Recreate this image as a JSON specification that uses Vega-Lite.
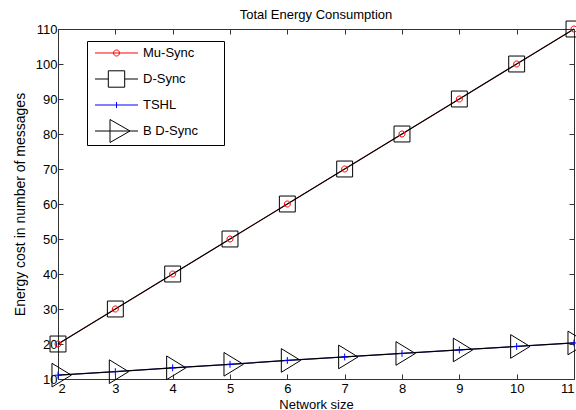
{
  "$schema": "https://vega.github.io/schema/vega-lite/v6.json",
  "width": 516,
  "height": 350,
  "autosize": "none",
  "padding": {"left": 58, "top": 29, "right": 2, "bottom": 31},
  "background": "white",
  "config": {
    "font": "Liberation Sans",
    "view": {"stroke": null},
    "axis": {"labelFont": "Liberation Sans", "titleFont": "Liberation Sans", "labelColor": "#000", "titleColor": "#000", "domainColor": "#333", "tickColor": "#333", "grid": false, "titleFontWeight": "normal", "labelFontSize": 13, "titleFontSize": 13}
  },
  "title": {"text": "Total Energy Consumption", "fontSize": 13, "fontWeight": "normal", "font": "Liberation Sans", "color": "#000", "anchor": "middle", "offset": -4},
  "data": {
    "values": [
      {"n": 2, "series": "Mu-Sync", "cost": 20}, {"n": 3, "series": "Mu-Sync", "cost": 30}, {"n": 4, "series": "Mu-Sync", "cost": 40}, {"n": 5, "series": "Mu-Sync", "cost": 50}, {"n": 6, "series": "Mu-Sync", "cost": 60}, {"n": 7, "series": "Mu-Sync", "cost": 70}, {"n": 8, "series": "Mu-Sync", "cost": 80}, {"n": 9, "series": "Mu-Sync", "cost": 90}, {"n": 10, "series": "Mu-Sync", "cost": 100}, {"n": 11, "series": "Mu-Sync", "cost": 110},
      {"n": 2, "series": "D-Sync", "cost": 20}, {"n": 3, "series": "D-Sync", "cost": 30}, {"n": 4, "series": "D-Sync", "cost": 40}, {"n": 5, "series": "D-Sync", "cost": 50}, {"n": 6, "series": "D-Sync", "cost": 60}, {"n": 7, "series": "D-Sync", "cost": 70}, {"n": 8, "series": "D-Sync", "cost": 80}, {"n": 9, "series": "D-Sync", "cost": 90}, {"n": 10, "series": "D-Sync", "cost": 100}, {"n": 11, "series": "D-Sync", "cost": 110},
      {"n": 2, "series": "TSHL", "cost": 11.1}, {"n": 3, "series": "TSHL", "cost": 12.1}, {"n": 4, "series": "TSHL", "cost": 13.2}, {"n": 5, "series": "TSHL", "cost": 14.2}, {"n": 6, "series": "TSHL", "cost": 15.3}, {"n": 7, "series": "TSHL", "cost": 16.3}, {"n": 8, "series": "TSHL", "cost": 17.3}, {"n": 9, "series": "TSHL", "cost": 18.3}, {"n": 10, "series": "TSHL", "cost": 19.3}, {"n": 11, "series": "TSHL", "cost": 20.3},
      {"n": 2, "series": "B D-Sync", "cost": 11.1}, {"n": 3, "series": "B D-Sync", "cost": 12.1}, {"n": 4, "series": "B D-Sync", "cost": 13.2}, {"n": 5, "series": "B D-Sync", "cost": 14.2}, {"n": 6, "series": "B D-Sync", "cost": 15.3}, {"n": 7, "series": "B D-Sync", "cost": 16.3}, {"n": 8, "series": "B D-Sync", "cost": 17.3}, {"n": 9, "series": "B D-Sync", "cost": 18.3}, {"n": 10, "series": "B D-Sync", "cost": 19.3}, {"n": 11, "series": "B D-Sync", "cost": 20.3}
    ]
  },
  "layer": [
    {
      "transform": [{"filter": {"field": "series", "oneOf": ["Mu-Sync", "TSHL"]}}],
      "mark": {"type": "line", "strokeWidth": 0.8, "clip": false},
      "encoding": {
        "x": {"field": "n", "type": "quantitative", "scale": {"domain": [2, 11], "nice": false, "zero": false},
              "axis": {"orient": "bottom", "values": [2,3,4,5,6,7,8,9,10,11], "tickSize": -5, "labelPadding": 8, "title": "Network size", "titlePadding": 3}},
        "y": {"field": "cost", "type": "quantitative", "scale": {"domain": [10, 110], "nice": false, "zero": false},
              "axis": {"orient": "left", "values": [10,20,30,40,50,60,70,80,90,100,110], "tickSize": -5, "labelPadding": 6, "title": "Energy cost in number of messages", "titleFontSize": 14, "titlePadding": 8}},
        "stroke": {"field": "series", "type": "nominal", "legend": null, "scale": {"domain": ["Mu-Sync", "D-Sync", "TSHL", "B D-Sync"], "range": ["#ff0000", "#000000", "#0000ff", "#000000"]}},
        "order": {"field": "n", "type": "quantitative"}
      }
    },
    {
      "transform": [{"filter": {"field": "series", "oneOf": ["D-Sync", "B D-Sync"]}}],
      "mark": {"type": "line", "strokeWidth": 1.2, "clip": false},
      "encoding": {
        "x": {"field": "n", "type": "quantitative", "axis": null},
        "y": {"field": "cost", "type": "quantitative", "axis": null},
        "stroke": {"field": "series", "type": "nominal", "legend": null},
        "order": {"field": "n", "type": "quantitative"}
      }
    },
    {
      "mark": {"type": "point", "filled": false, "strokeWidth": 1, "size": 1849, "opacity": 1, "clip": false},
      "encoding": {
        "x": {"field": "n", "type": "quantitative", "axis": null},
        "y": {"field": "cost", "type": "quantitative", "axis": null},
        "shape": {"field": "series", "type": "nominal", "legend": null, "scale": {"domain": ["Mu-Sync", "D-Sync", "TSHL", "B D-Sync"], "range": [
          "M-0.14,0A0.14,0.14 0 1,1 0.14,0A0.14,0.14 0 1,1 -0.14,0Z",
          "M-0.37,-0.37H0.37V0.37H-0.37Z",
          "M-0.16,0H0.16M0,-0.16V0.16",
          "M-0.28,-0.55L0.62,0L-0.28,0.55Z"
        ]}},
        "stroke": {"field": "series", "type": "nominal", "legend": null}
      }
    },
    {
      "mark": {"type": "point", "filled": false, "opacity": 0, "size": 529, "strokeWidth": 1},
      "encoding": {
        "x": {"field": "n", "type": "quantitative", "axis": {"orient": "top", "values": [2,3,4,5,6,7,8,9,10,11], "tickSize": -5, "labels": false, "title": null}},
        "y": {"field": "cost", "type": "quantitative", "axis": {"orient": "right", "values": [10,20,30,40,50,60,70,80,90,100,110], "tickSize": -5, "labels": false, "title": null}},
        "shape": {"field": "series", "type": "nominal",
          "scale": {"domain": ["Mu-Sync", "D-Sync", "TSHL", "B D-Sync"], "range": [
            "M-1.0435,-1M10.65,1M-0.348,0H3.391M1.261,0A0.261,0.261 0 1,1 1.783,0A0.261,0.261 0 1,1 1.261,0Z",
            "M-1.0435,-1M10.65,1M-0.348,0H0.809M2.235,0H3.391M0.809,-0.713H2.235V0.713H0.809Z",
            "M-1.0435,-1M10.65,1M-0.348,0H3.391M1.522,-0.261V0.261",
            "M-1.0435,-1M10.65,1M-0.348,0H3.391M0.957,-1L2.696,0L0.957,1Z"
          ]},
          "legend": {
            "title": null, "orient": "none", "legendX": 29, "legendY": 12,
            "padding": 0, "strokeColor": "#000", "fillColor": "#fff", "cornerRadius": 0,
            "symbolSize": 529, "symbolStrokeWidth": 1, "symbolOpacity": 1, "symbolFillColor": "transparent",
            "labelFontSize": 13, "labelFont": "Liberation Sans", "labelColor": "#000", "labelOffset": 32, "rowPadding": -5
          }
        },
        "stroke": {"field": "series", "type": "nominal",
          "legend": {
            "title": null, "orient": "none", "legendX": 29, "legendY": 12,
            "padding": 0, "strokeColor": "#000", "fillColor": "#fff", "cornerRadius": 0,
            "symbolSize": 529, "symbolStrokeWidth": 1, "symbolOpacity": 1, "symbolFillColor": "transparent",
            "labelFontSize": 13, "labelFont": "Liberation Sans", "labelColor": "#000", "labelOffset": 32, "rowPadding": -5
          }
        }
      }
    }
  ],
  "resolve": {"axis": {"x": "independent", "y": "independent"}, "scale": {"shape": "independent"}, "legend": {"stroke": "independent", "shape": "independent"}}
}
